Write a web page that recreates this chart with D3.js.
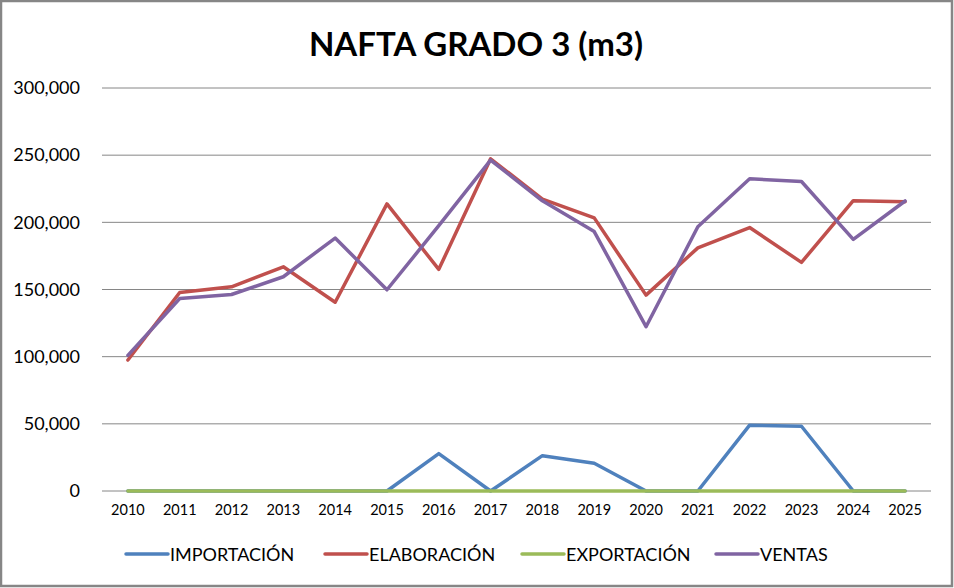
<!DOCTYPE html>
<html>
<head>
<meta charset="utf-8">
<script src="https://cdn.jsdelivr.net/npm/d3@7"></script>
<style>
  body { margin: 0; background: #fff; }
  svg { font-family: Lato, "Open Sans", sans-serif; }
</style>
</head>
<body>
<div id="chart"></div>
<script>
// Width and height
const w = 954;
const h = 588;

const years = ['2010','2011','2012','2013','2014','2015','2016','2017',
               '2018','2019','2020','2021','2022','2023','2024','2025'];

const importacion = [0, 0, 0, 0, 0, 0, 27800, 0, 26300, 20600, 0, 0, 49000, 48200, 0, 0];
const elaboracion = [97500, 147800, 152000, 166900, 140500, 213700, 165000, 247300,
                     217300, 203300, 145800, 181000, 196100, 170200, 216100, 215400];
const exportacion = [0, 0, 0, 0, 0, 0, 0, 0, 0, 0, 0, 0, 0, 0, 0, 0];
const ventas = [101000, 143300, 146300, 159500, 188300, 149800, 197500, 246300,
                216000, 193100, 122300, 196700, 232400, 230400, 187300, 215900];

const yTicks = [0, 50000, 100000, 150000, 200000, 250000, 300000];

const series = [
  { name: 'IMPORTACIÓN', values: importacion, color: '#4f81bd' },
  { name: 'ELABORACIÓN', values: elaboracion, color: '#c0504d' },
  { name: 'EXPORTACIÓN', values: exportacion, color: '#9bbb59' },
  { name: 'VENTAS', values: ventas, color: '#8064a2' }
];

const plot = { left: 102, right: 931, top: 88, bottom: 491 };

const xScale = d3.scaleBand()
  .domain(years)
  .range([plot.left, plot.right]);

const yScale = d3.scaleLinear()
  .domain([0, 300000])
  .range([plot.bottom, plot.top]);

const svg = d3.select('#chart')
  .append('svg')
  .attr('width', w)
  .attr('height', h);

// Border
svg.append('rect')
  .attr('x', 1).attr('y', 1)
  .attr('width', w - 3).attr('height', h - 3)
  .attr('fill', '#fff')
  .attr('stroke', '#868686')
  .attr('stroke-width', 2.5);

// Title
svg.append('text')
  .attr('x', 476)
  .attr('y', 56)
  .attr('text-anchor', 'middle')
  .attr('font-size', 33)
  .attr('font-weight', 'bold')
  .attr('fill', '#000')
  .text('NAFTA GRADO 3 (m3)');

// Gridlines
svg.append('g')
  .selectAll('line')
  .data(yTicks)
  .enter()
  .append('line')
  .attr('x1', plot.left)
  .attr('x2', plot.right)
  .attr('y1', d => yScale(d))
  .attr('y2', d => yScale(d))
  .attr('stroke', '#868686')
  .attr('stroke-width', 1);

// Y axis
const yAxis = svg.append('g')
  .attr('transform', 'translate(' + (plot.left - 19) + ',0)')
  .call(d3.axisLeft(yScale)
    .tickValues(yTicks)
    .tickSize(0)
    .tickFormat(d3.format(',')));
yAxis.select('.domain').remove();
yAxis.selectAll('text')
  .attr('font-family', 'Lato, sans-serif')
  .attr('font-size', 18)
  .attr('fill', '#000');

// X axis
const xAxis = svg.append('g')
  .attr('transform', 'translate(0,' + plot.bottom + ')')
  .call(d3.axisBottom(xScale).tickSize(0).tickPadding(14));
xAxis.select('.domain').remove();
xAxis.selectAll('text')
  .attr('font-family', 'Lato, sans-serif')
  .attr('font-size', 14.5)
  .attr('fill', '#000');

// Lines
const line = d3.line()
  .x((d, i) => xScale(years[i]) + xScale.bandwidth() / 2)
  .y(d => yScale(d));

svg.append('g')
  .selectAll('path')
  .data(series)
  .enter()
  .append('path')
  .attr('d', d => line(d.values))
  .attr('fill', 'none')
  .attr('stroke', d => d.color)
  .attr('stroke-width', 3.5)
  .attr('stroke-linejoin', 'round')
  .attr('stroke-linecap', 'round');

// Legend
const legendX = [126, 325, 522, 716];
const legend = svg.append('g')
  .selectAll('g')
  .data(series)
  .enter()
  .append('g')
  .attr('transform', (d, i) => 'translate(' + legendX[i] + ',554)');

legend.append('line')
  .attr('x1', 0).attr('x2', 42)
  .attr('stroke', d => d.color)
  .attr('stroke-width', 3.5)
  .attr('stroke-linecap', 'round');

legend.append('text')
  .attr('x', 44)
  .attr('y', 7)
  .attr('font-size', 18)
  .attr('fill', '#000')
  .text(d => d.name);
</script>
</body>
</html>
